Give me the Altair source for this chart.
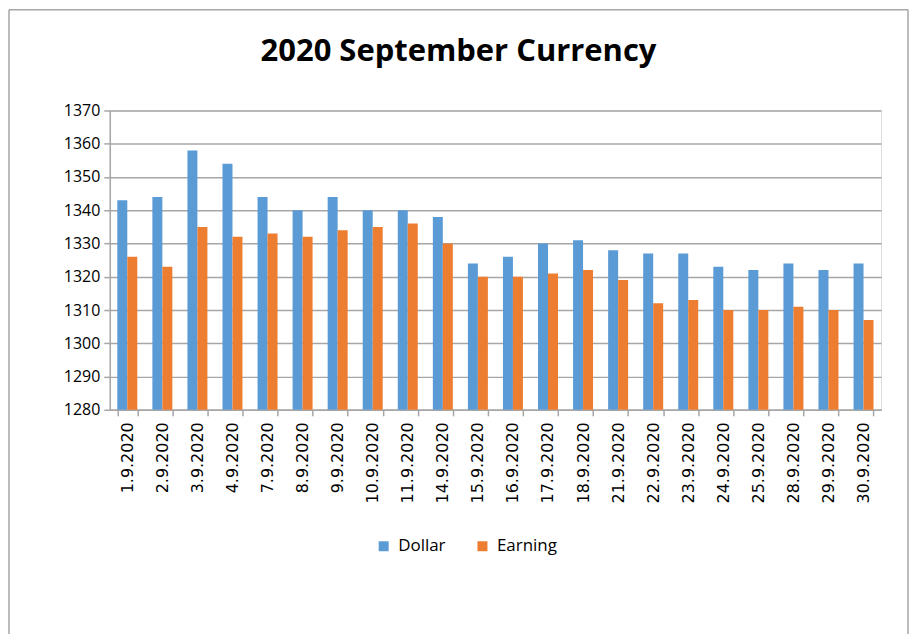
import altair as alt
import pandas as pd

dates = ["1.9.2020", "2.9.2020", "3.9.2020", "4.9.2020", "7.9.2020", "8.9.2020",
         "9.9.2020", "10.9.2020", "11.9.2020", "14.9.2020", "15.9.2020", "16.9.2020",
         "17.9.2020", "18.9.2020", "21.9.2020", "22.9.2020", "23.9.2020", "24.9.2020",
         "25.9.2020", "28.9.2020", "29.9.2020", "30.9.2020"]
dollar = [1343, 1344, 1358, 1354, 1344, 1340, 1344, 1340, 1340, 1338, 1324,
          1326, 1330, 1331, 1328, 1327, 1327, 1323, 1322, 1324, 1322, 1324]
earning = [1326, 1323, 1335, 1332, 1333, 1332, 1334, 1335, 1336, 1330, 1320,
           1320, 1321, 1322, 1319, 1312, 1313, 1310, 1310, 1311, 1310, 1307]
series_names = ["Dollar", "Earning"]
series_colors = ["#5B9BD5", "#ED7D31"]
y_ticks = [1280, 1290, 1300, 1310, 1320, 1330, 1340, 1350, 1360, 1370]

rows = []
for d, a, b in zip(dates, dollar, earning):
    rows.append({"date": d, "series": "Dollar", "value": a})
    rows.append({"date": d, "series": "Earning", "value": b})
df = pd.DataFrame(rows)

bars = alt.Chart(df).mark_bar().encode(
    x=alt.X("date:N", sort=dates, title=None,
            scale=alt.Scale(paddingInner=0.43, paddingOuter=0.215),
            axis=alt.Axis(labelAngle=270, labelAlign="right", labelBaseline="middle",
                          tickBand="extent", labelFont="DejaVu Sans", labelFontSize=16,
                          labelColor="#000000", labelPadding=6, tickSize=6,
                          tickColor="#a6a6a6", domainColor="#a6a6a6", domainWidth=1.5,
                          tickWidth=1.5)),
    xOffset=alt.XOffset("series:N", sort=series_names),
    y=alt.Y("value:Q", title=None,
            scale=alt.Scale(domain=[1280, 1370], zero=False, nice=False),
            axis=alt.Axis(values=y_ticks, format="d", grid=True, gridColor="#a6a6a6",
                          gridWidth=1.5, labelFont="Open Sans", labelFontSize=16,
                          labelColor="#000000", labelPadding=4, tickSize=6,
                          tickColor="#a6a6a6", tickWidth=1.5,
                          domainColor="#a6a6a6", domainWidth=1.5)),
    y2=alt.datum(1280),
    color=alt.Color("series:N", sort=series_names,
                    scale=alt.Scale(domain=series_names, range=series_colors),
                    legend=alt.Legend(title=None, orient="none", direction="horizontal",
                                      legendX=266, legendY=428, symbolType="square",
                                      symbolSize=100, symbolStrokeWidth=0,
                                      labelFont="Open Sans", labelFontSize=17,
                                      labelColor="#000000", columnPadding=28,
                                      labelOffset=6)),
)

# outer chart frame (decoration)
frame_left = alt.Chart().mark_rule(color="#a6a6a6", strokeWidth=1.5).encode(
    x=alt.value(-101), y=alt.value(-101), y2=alt.value(560))
frame_top = alt.Chart().mark_rule(color="#a6a6a6", strokeWidth=1.5).encode(
    x=alt.value(-101), x2=alt.value(800), y=alt.value(-101))
frame_right = alt.Chart().mark_rule(color="#a6a6a6", strokeWidth=1.5).encode(
    x=alt.value(800), y=alt.value(-101), y2=alt.value(560))

chart = alt.layer(frame_left, frame_top, frame_right, bars).properties(
    width=773,
    height=300,
    title=alt.TitleParams("2020 September Currency", font="Open Sans", fontSize=31,
                          fontWeight="bold", color="#000000", anchor="middle",
                          dx=-37, dy=59, offset=0),
    autosize=alt.AutoSizeParams(type="none"),
    padding={"left": 102, "top": 102, "right": 28, "bottom": 224},
).configure_view(stroke=None).configure(background="#ffffff")

chart.save("out.html", embed_options={"renderer": "svg", "actions": False})
